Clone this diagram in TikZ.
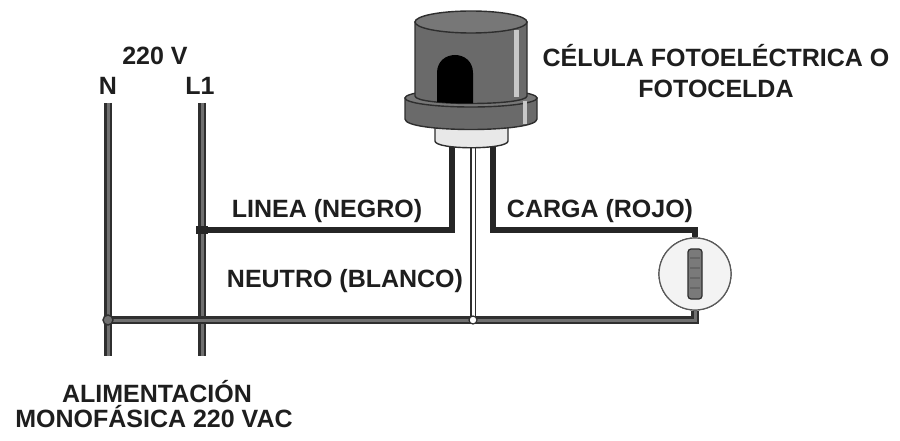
\documentclass[tikz,border=0pt]{standalone}
\usepackage{fontspec}
\setmainfont{Liberation Sans}
\definecolor{txt}{HTML}{1E1E1E}
\definecolor{edge}{HTML}{2E2E2E}
\definecolor{wireedge}{HTML}{2F2F2F}
\definecolor{wirecore}{HTML}{707070}
\definecolor{hot}{HTML}{262626}
\definecolor{capgray}{HTML}{6A6A6A}
\definecolor{captop}{HTML}{777777}
\definecolor{shine}{HTML}{C8C8C8}
\definecolor{neck}{HTML}{E8E8E8}
\definecolor{glass}{HTML}{F3F3F3}
\definecolor{filament}{HTML}{7A7A7A}
\begin{document}
\begin{tikzpicture}[x=1pt,y=-1pt,
  lbl/.style={font=\bfseries\fontsize{25}{30}\selectfont, text=txt, anchor=base, inner sep=0pt},
  powerwire/.style={draw=wireedge, line width=2.2pt, double=wirecore, double distance=3pt},
  hotwire/.style={draw=hot, line width=6pt},
  neutralwire/.style={draw=wireedge, line width=1.6pt, double=white, double distance=3pt},
  body/.style={draw=edge, line width=1.4pt, fill=capgray},
  junction/.style={inner sep=0pt, minimum size=9pt}
]
\useasboundingbox[fill=white] (0,0) rectangle (900,441);

% supply conductors
\coordinate (Ntop) at (108,103);
\coordinate (Nbot) at (108,356);
\coordinate (Ltop) at (202,103);
\coordinate (Lbot) at (202,356);
% photocell leads
\coordinate (pL) at (452,140);
\coordinate (pW) at (473,140);
\coordinate (pR) at (493,140);
% corner points
\coordinate (cR) at (695,230);
\coordinate (cB) at (695,320);

\node[circle, draw=wireedge, line width=1.2pt, fill=glass, minimum size=72pt, inner sep=0pt] (lamp) at (695,274) {};

\draw[powerwire] (Ntop) -- (Nbot);
\draw[powerwire] (Ltop) -- (Lbot);

\node[junction, circle, minimum size=11pt] (jN) at (108,320) {};
\node[junction, circle, minimum size=8pt] (jW) at (473,320) {};
\node[junction, rectangle, minimum width=12pt, minimum height=8pt] (jL) at (202,230) {};

\draw[powerwire] (jN.center) -- (cB) -- (lamp.south);
\draw[hotwire] (pL) |- (jL.center);
\draw[hotwire] (pR) |- (cR) -- (lamp.north);
\draw[neutralwire] (pW) -- (jW.center);

\fill[hot] (jL.south west) rectangle (jL.north east);
\filldraw[draw=wireedge, fill=wirecore, line width=1.4pt] (jN.center) circle[radius=5pt];
\filldraw[draw=wireedge, fill=white, line width=1.2pt] (jW.center) circle[radius=4pt];

% lamp redrawn over its leads
\filldraw[draw=wireedge!80, line width=1.2pt, fill=glass] (lamp.center) circle[radius=36pt];
\filldraw[draw=edge, fill=filament, line width=1.2pt, rounded corners=3pt] (688,249) rectangle (702,299);
\foreach \yy in {258,268,278,288}
  \draw[black!60, line width=1.5pt] (690,\yy) -- (700,\yy);

% photocell: neck
\filldraw[draw=edge, fill=neck, line width=1.4pt]
  (435,116) -- (435,141) .. controls (435,150) and (508,150) .. (508,141) -- (508,116) -- cycle;
% photocell: base ring
\filldraw[body] (405,98) -- (405,119) .. controls (405,133) and (537,133) .. (537,119) -- (537,98) -- cycle;
\filldraw[body, fill=captop] (471,98) ellipse[x radius=66pt, y radius=9pt];
\fill[shine] (523,101) rectangle (527,124);
% photocell: cap
\filldraw[body] (415,22) -- (415,96) .. controls (415,106) and (527,106) .. (527,96) -- (527,22) -- cycle;
\begin{scope}
  \clip (415,22) -- (415,96) .. controls (415,106) and (527,106) .. (527,96) -- (527,22) -- cycle;
  \fill[black] (437,110) -- (437,73) .. controls (437,49) and (473,49) .. (473,73) -- (473,110) -- cycle;
\end{scope}
\fill[shine] (514,30) rectangle (519,97);
\filldraw[body, fill=captop] (471,22) ellipse[x radius=56pt, y radius=11pt];

% labels
\node[lbl] (volt) at (155,65) {220 V};
\node[lbl] (nlab) at (108,95) {N};
\node[lbl] (l1lab) at (200,95) {L1};
\node[lbl] (cell1) at (716,67) {CÉLULA FOTOELÉCTRICA O};
\node[lbl] (cell2) at (716,98) {FOTOCELDA};
\node[lbl] (linea) at (327,218) {LINEA (NEGRO)};
\node[lbl] (carga) at (600,218) {CARGA (ROJO)};
\node[lbl] (neutro) at (345,287) {NEUTRO (BLANCO)};
\node[lbl] (sup1) at (157,402) {ALIMENTACIÓN};
\node[lbl] (sup2) at (154,427) {MONOFÁSICA 220 VAC};
\end{tikzpicture}
\end{document}
